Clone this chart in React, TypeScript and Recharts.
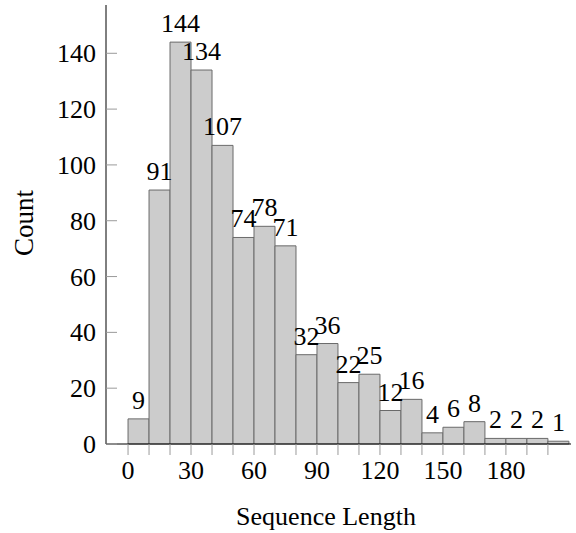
import { ComposedChart, Bar, XAxis, YAxis, LabelList, Label } from "recharts"

// histogram bins (width 10), centre of each bin + count
const binCenters = [5, 15, 25, 35, 45, 55, 65, 75, 85, 95, 105, 115, 125, 135, 145, 155, 165, 175, 185, 195, 205]
const counts = [9, 91, 144, 134, 107, 74, 78, 71, 32, 36, 22, 25, 12, 16, 4, 6, 8, 2, 2, 2, 1]
const xTicks = [0, 10, 20, 30, 40, 50, 60, 70, 80, 90, 100, 110, 120, 130, 140, 150, 160, 170, 180, 190, 200]
const xLabelTicks = [0, 30, 60, 90, 120, 150, 180]
const yTicks = [0, 20, 40, 60, 80, 100, 120, 140]

const data = binCenters.map((c, i) => ({ center: c, count: counts[i] }))

const FONT = '"Liberation Serif", "Times New Roman", serif'
const NUM_SIZE = 26

const XTick = (props: any) => {
  const { x, y, payload } = props
  const showLabel = xLabelTicks.includes(payload.value)
  return (
    <g>
      <line x1={x} x2={x} y1={y} y2={y + 11} stroke="#9a9a9a" strokeWidth={1} />
      {showLabel && (
        <text x={x} y={y + 35} textAnchor="middle" fontSize={NUM_SIZE} fontFamily={FONT} fill="#000">
          {payload.value}
        </text>
      )}
    </g>
  )
}

const YTick = (props: any) => {
  const { x, y, payload } = props
  return (
    <g>
      <line x1={x + 10} x2={x + 21} y1={y} y2={y} stroke="#9a9a9a" strokeWidth={1} />
      <text x={x} y={y + 9} textAnchor="end" fontSize={NUM_SIZE} fontFamily={FONT} fill="#000">
        {payload.value}
      </text>
    </g>
  )
}

export default function App() {
  return (
    <div style={{ position: "absolute", left: 0, top: 0, background: "#fff" }}>
      <ComposedChart
        width={576}
        height={533}
        data={data}
        margin={{ top: 5, right: 5, left: 0, bottom: 0 }}
        barCategoryGap={0}
        barGap={0}
      >
        <XAxis
          dataKey="center"
          type="number"
          domain={[-10.5, 211]}
          ticks={xTicks}
          interval={0}
          height={89}
          tickLine={false}
          tickSize={0}
          tickMargin={0}
          axisLine={{ stroke: "#000", strokeWidth: 1 }}
          tick={<XTick />}
        >
          <Label
            content={() => (
              <text x={326} y={525} textAnchor="middle" fontSize={26} fontFamily={FONT} fill="#000">
                Sequence Length
              </text>
            )}
          />
        </XAxis>
        <YAxis
          type="number"
          domain={[0, 157.3]}
          ticks={yTicks}
          interval={0}
          width={106}
          tickLine={false}
          tickSize={0}
          tickMargin={10}
          axisLine={{ stroke: "#000", strokeWidth: 1 }}
          tick={<YTick />}
        >
          <Label
            content={() => (
              <text
                x={33}
                y={223}
                transform="rotate(-90 33 223)"
                textAnchor="middle"
                fontSize={27}
                fontFamily={FONT}
                fill="#000"
              >
                Count
              </text>
            )}
          />
        </YAxis>
        <Bar dataKey="count" fill="#cccccc" stroke="#6a6a6a" strokeWidth={1} isAnimationActive={false}>
          <LabelList
            dataKey="count"
            position="top"
            offset={10}
            fontSize={NUM_SIZE}
            fontFamily={FONT}
            fill="#000"
          />
        </Bar>
      </ComposedChart>
    </div>
  )
}
